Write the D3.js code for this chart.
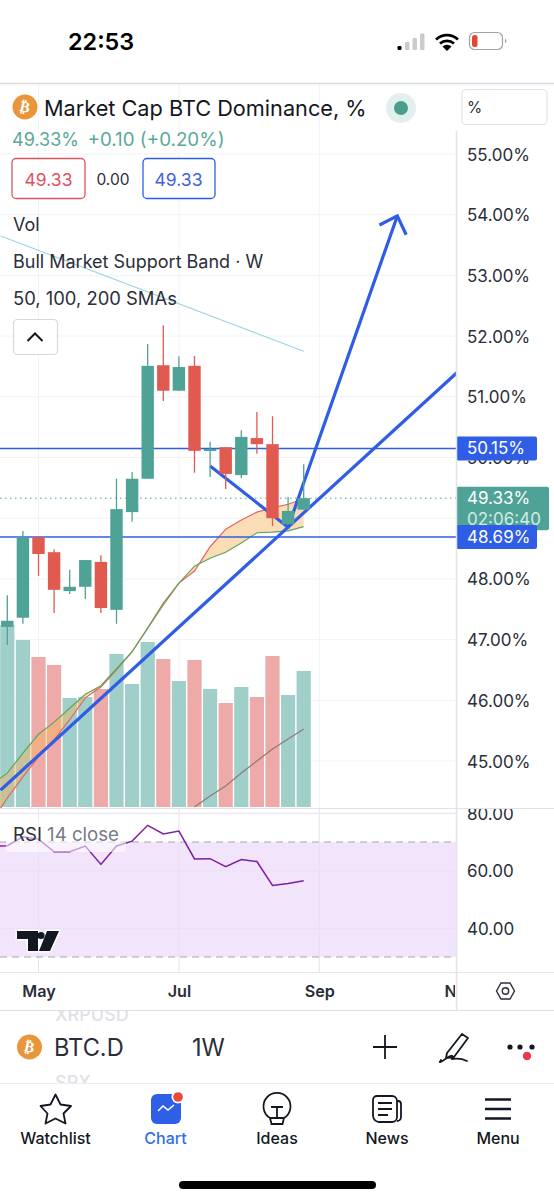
<!DOCTYPE html>
<html><head><meta charset="utf-8">
<script src="https://cdn.jsdelivr.net/npm/d3@7/dist/d3.min.js"></script>
<style>
html,body{margin:0;padding:0;background:#fff}
svg{display:block;font-family:Inter,"Noto Sans",sans-serif}
</style></head><body><svg id="c" width="554" height="1200"></svg>
<script>
// ---------- data ----------
const weeks=["2023-04-17","2023-04-24","2023-05-01","2023-05-08","2023-05-15","2023-05-22","2023-05-29","2023-06-05","2023-06-12","2023-06-19","2023-06-26","2023-07-03","2023-07-10","2023-07-17","2023-07-24","2023-07-31","2023-08-07","2023-08-14","2023-08-21","2023-08-28"];
const opens =[47.21,47.36,48.69,48.44,47.80,47.87,48.28,47.49,49.10,49.65,51.52,51.10,51.51,50.11,50.17,49.71,50.32,50.22,48.90,49.14];
const highs =[47.73,48.79,48.69,48.49,48.15,48.31,48.39,49.65,49.76,51.87,52.18,51.67,51.67,50.26,50.17,50.45,50.75,50.68,49.35,49.89];
const lows  =[46.91,47.26,48.05,47.44,47.75,47.67,47.44,47.26,48.94,49.65,50.93,51.10,49.75,49.68,49.48,49.66,50.06,48.87,48.90,49.14];
const closes=[47.31,48.69,48.41,47.82,47.87,48.31,47.52,49.15,49.65,51.51,51.10,51.49,50.11,50.14,49.73,50.34,50.22,49.00,49.12,49.33];
const volumes=[91,83.5,75,71,54.5,55,59,76.5,61.5,82.5,74,63,73.5,59,52,60,55,75.5,56,68];
const volMaWeeks=weeks.slice(12);
const volMa=[0,5.5,10.5,17,23,29,34,39];
const bandRed  =[44.39,44.74,45.07,45.35,45.68,46.04,46.22,46.50,46.80,47.19,47.57,47.93,48.13,48.53,48.82,48.97,49.10,49.17,49.23,49.32];
const bandGreen=[44.80,45.13,45.44,45.64,45.87,46.10,46.24,46.52,46.80,47.19,47.60,47.93,48.21,48.34,48.44,48.59,48.76,48.77,48.79,48.86];
const rsi=[68.7,71.8,71,66.6,66.6,68.6,62.2,68.6,70.3,75.8,72.8,73.8,64.1,64.2,61.4,63.9,63.2,54.9,55.6,56.5];
const priceGrid=[55,54,53,52,51,50,49,48,47,46,45];
const priceTicks=[55,54,53,52,51,50,48,47,46,45];
const rsiTicks=[80,60,40];
const timeTicks=["2023-05-01","2023-07-03","2023-09-04","2023-11-06"];
const timeLabels=["May","Jul","Sep","Nov"];
const hLines=[50.15,48.69];
const lastPrice=49.33;
const fadeLine=[["2023-04-14",53.65],["2023-08-28",51.75]];
const trendLine=[["2023-04-14",44.52],["2023-11-06",51.44]];
const arrowLine=[["2023-07-17",49.86],["2023-08-21",48.85],["2023-10-09",53.98]];
const arrowHead=[["2023-10-01",53.83],["2023-10-09",53.98],["2023-10-13",53.67]];

// ---------- scales ----------
const D=s=>new Date(s+"T00:00:00Z");
const x=d3.scaleUtc().domain([D("2023-04-17"),D("2023-11-06")]).range([7.3,459.7]);
const y=d3.scaleLinear().domain([55,45]).range([154,761]);
const yVol=d3.scaleLinear().domain([0,100]).range([807,607]);
const yRsi=d3.scaleLinear().domain([70,30]).range([842,957]);

const GREEN="#4fa296",RED="#e05a50",BLUE="#2f5de6",TXT="#2a2e39";
const svg=d3.select("#c");
const defs=svg.append("defs");
const clip=(id,a,b,c,e)=>defs.append("clipPath").attr("id",id).append("rect").attr("x",a).attr("y",b).attr("width",c).attr("height",e);
clip("plot",0,84,456,724);clip("rsiP",0,809,456,163);clip("rsiAx",457,808,97,164);clip("timeAx",0,973,455,36);

const line=(g,x1,y1,x2,y2,c,w)=>g.append("line").attr("x1",x1).attr("y1",y1).attr("x2",x2).attr("y2",y2).attr("stroke",c).attr("stroke-width",w||1);
const text=(g,s,px,py,size,fill,o={})=>g.append("text").text(s).attr("x",px).attr("y",py).attr("font-size",size).attr("fill",fill).attr("dominant-baseline","central").attr("text-anchor",o.a||"start").attr("font-weight",o.w||400).attr("opacity",o.o==null?1:o.o);

// ---------- main price pane ----------
const plot=svg.append("g").attr("clip-path","url(#plot)");
priceGrid.forEach(t=>line(plot,0,y(t),456,y(t),"#f1f3f7"));
timeTicks.forEach(t=>line(plot,x(D(t)),84,x(D(t)),808,"#f1f3f7"));

plot.selectAll("rect.vol").data(weeks).join("rect").attr("class","vol")
 .attr("x",d=>x(D(d))-7.1).attr("width",14.2)
 .attr("y",(d,i)=>yVol(volumes[i])).attr("height",(d,i)=>yVol(0)-yVol(volumes[i]))
 .attr("fill",(d,i)=>closes[i]>=opens[i]?"#a0cfca":"#eeaaa8");

plot.append("path").datum(volMaWeeks).attr("fill","none").attr("stroke","#8d7a72").attr("stroke-width",1.2)
 .attr("d",d3.line().x(d=>x(D(d))).y((d,i)=>yVol(volMa[i])));

// band, carried off the left edge
const bw=["2023-04-10",...weeks], br=[44.0,...bandRed], bg=[44.62,...bandGreen];
plot.append("path").datum(bw).attr("fill","#f4b45f").attr("opacity",.45)
 .attr("d",d3.area().x(d=>x(D(d))).y0((d,i)=>y(br[i])).y1((d,i)=>y(bg[i])));
plot.append("path").datum(bw).attr("fill","none").attr("stroke","#e4655c").attr("stroke-width",1.2)
 .attr("d",d3.line().x(d=>x(D(d))).y((d,i)=>y(br[i])));
plot.append("path").datum(bw).attr("fill","none").attr("stroke","#5fa55a").attr("stroke-width",1.2)
 .attr("d",d3.line().x(d=>x(D(d))).y((d,i)=>y(bg[i])));

// dotted last-price line and horizontal levels
plot.append("line").attr("x1",0).attr("x2",456).attr("y1",y(lastPrice)).attr("y2",y(lastPrice)).attr("stroke","#4fa296").attr("stroke-width",1).attr("stroke-dasharray","1.5 3.5");
hLines.forEach(h=>line(plot,0,y(h),456,y(h),BLUE,1.5));

// hand-drawn lines sit under the candles
const ann=d3.line().x(d=>x(D(d[0]))).y(d=>y(d[1]));
plot.append("path").attr("d",ann(fadeLine)).attr("fill","none").attr("stroke","#a3d3e6").attr("stroke-width",1.2);
plot.append("path").attr("d",ann(trendLine)).attr("fill","none").attr("stroke",BLUE).attr("stroke-width",3.2);
plot.append("path").attr("d",ann(arrowLine)).attr("fill","none").attr("stroke",BLUE).attr("stroke-width",3.2).attr("stroke-linejoin","round");
plot.append("path").attr("d",ann(arrowHead)).attr("fill","none").attr("stroke",BLUE).attr("stroke-width",3.2);

// candles
const cg=plot.append("g");
cg.selectAll("line").data(weeks).join("line")
 .attr("x1",d=>x(D(d))).attr("x2",d=>x(D(d)))
 .attr("y1",(d,i)=>y(highs[i])).attr("y2",(d,i)=>y(lows[i]))
 .attr("stroke",(d,i)=>closes[i]>=opens[i]?GREEN:RED).attr("stroke-width",1.3);
cg.selectAll("rect").data(weeks).join("rect")
 .attr("x",d=>x(D(d))-6.2).attr("width",12.4)
 .attr("y",(d,i)=>y(Math.max(opens[i],closes[i])))
 .attr("height",(d,i)=>Math.max(2,y(Math.min(opens[i],closes[i]))-y(Math.max(opens[i],closes[i]))))
 .attr("fill",(d,i)=>closes[i]>=opens[i]?GREEN:RED);

// ---------- RSI pane ----------
const rp=svg.append("g").attr("clip-path","url(#rsiP)");
rp.append("rect").attr("x",0).attr("width",456).attr("y",yRsi(70)).attr("height",yRsi(30)-yRsi(70)).attr("fill","#f2e5fb");
rsiTicks.forEach(t=>line(rp,0,yRsi(t),456,yRsi(t),"#e8e0ef"));
timeTicks.forEach(t=>line(rp,x(D(t)),809,x(D(t)),972,"#e6e1ec"));
[70,30].forEach(t=>rp.append("line").attr("x1",0).attr("x2",456).attr("y1",yRsi(t)).attr("y2",yRsi(t)).attr("stroke","#a9a5ad").attr("stroke-width",1.1).attr("stroke-dasharray","7 5"));
const rw=["2023-04-10",...weeks], rv=[68.5,...rsi];
rp.append("path").datum(rw).attr("fill","none").attr("stroke","#7b1fa2").attr("stroke-width",1.5)
 .attr("d",d3.line().x(d=>x(D(d))).y((d,i)=>yRsi(rv[i])));
rp.append("rect").attr("x",6).attr("y",820).attr("width",120).attr("height",32).attr("rx",3).attr("fill","#fff").attr("opacity",.55);
const leg=rp.append("text").attr("x",13).attr("y",834).attr("font-size",18.6).attr("dominant-baseline","central");
leg.append("tspan").text("RSI").attr("fill",TXT);
leg.append("tspan").text(" 14 close").attr("fill","#767a85");

// TradingView mark
const tv=svg.append("g");
tv.append("path").attr("d","M17 931H38V951H28V939H17Z M47 931H59L50 951H39Z").attr("fill","#131722").attr("stroke","#fff").attr("stroke-width",3).attr("paint-order","stroke");
tv.append("circle").attr("cx",41).attr("cy",935.5).attr("r",3.6).attr("fill","#131722");

// ---------- right axes ----------
const styleAxis=g=>{g.select(".domain").remove();g.selectAll(".tick line").remove();
 g.selectAll("text").attr("fill",TXT).attr("font-size",17).attr("font-family","Inter,sans-serif").attr("x",467-456).attr("dy",0).attr("dominant-baseline","central");};
svg.append("g").attr("transform","translate(456,0)")
 .call(d3.axisRight(y).tickValues(priceTicks).tickFormat(d=>d3.format(".2f")(d)+"%")).call(styleAxis);
svg.append("g").attr("clip-path","url(#rsiAx)").append("g").attr("transform","translate(456,0)")
 .call(d3.axisRight(yRsi).tickValues(rsiTicks).tickFormat(d3.format(".2f"))).call(styleAxis);

// price labels
const lab=(yy,h,fill)=>svg.append("rect").attr("x",456).attr("y",yy).attr("width",fill==GREEN?93:81).attr("height",h).attr("rx",2).attr("fill",fill);
lab(y(lastPrice)-11.5,43.5,GREEN);
text(svg,"49.33%",467,y(lastPrice),17,"#fff");
text(svg,"02:06:40",467,519,17,"#d2ebe6");
hLines.forEach(h=>{lab(y(h)-12,24,BLUE);text(svg,d3.format(".2f")(h)+"%",467,y(h),17,"#fff");});

// ---------- time axis ----------
const ta=svg.append("g").attr("clip-path","url(#timeAx)").append("g").attr("transform","translate(0,980)")
 .call(d3.axisBottom(x).tickValues(timeTicks.map(D)).tickFormat((d,i)=>timeLabels[i]));
ta.select(".domain").remove();ta.selectAll(".tick line").remove();
ta.selectAll("text").attr("fill",TXT).attr("font-size",16.2).attr("font-weight",600).attr("font-family","Inter,sans-serif").attr("y",11).attr("dy",0).attr("dominant-baseline","central");

// ---------- frame lines ----------
line(svg,0,83.5,554,83.5,"#d9dce3",1.3);
line(svg,456.5,131,456.5,1010,"#e2e4ea",1.5);
line(svg,0,808.5,554,808.5,"#dfe1e7",1.2);
line(svg,0,972.5,554,972.5,"#e2e4ea",1);
line(svg,0,1010.5,554,1010.5,"#dcdfe6",1.2);

// ---------- header ----------
const coin=(cx,cy)=>{svg.append("circle").attr("cx",cx).attr("cy",cy).attr("r",12.5).attr("fill","#e9963a");
 text(svg,"\u20BF",cx,cy,15,"#fff",{a:"middle",w:700}).attr("font-family","DejaVu Sans").attr("transform",`rotate(12 ${cx} ${cy})`);};
coin(25,107);
text(svg,"Market Cap BTC Dominance, %",44,107.5,21.7,"#131722");
svg.append("circle").attr("cx",401).attr("cy",108).attr("r",15).attr("fill","#e1f0ed");
svg.append("circle").attr("cx",401).attr("cy",108).attr("r",7).attr("fill","#4a9c8d");
svg.append("rect").attr("x",462).attr("y",89.5).attr("width",85).attr("height",35).attr("rx",4).attr("fill","#fff").attr("stroke","#e0e3ea").attr("stroke-width",1.2);
text(svg,"%",467,107,15.5,TXT);
text(svg,"49.33%",12,139,18,"#5aa899");
text(svg,"+0.10 (+0.20%)",87.5,139,18.8,"#5aa899");
const box=(x0,w,c)=>svg.append("rect").attr("x",x0).attr("y",158.5).attr("width",w).attr("height",40).attr("rx",4).attr("fill","#fff").attr("stroke",c).attr("stroke-width",1.3);
box(12,73,"#dd5460");box(143,72,BLUE);
text(svg,"49.33",48.5,179,17.5,"#dd5460",{a:"middle"});
text(svg,"0.00",113,179,15.5,TXT,{a:"middle"});
text(svg,"49.33",178.5,179,17.5,"#3f62e0",{a:"middle"});
text(svg,"Vol",13,224,18,TXT);
text(svg,"Bull Market Support Band \u00B7 W",13,261,18,TXT);
text(svg,"50, 100, 200 SMAs",13,298,18.4,TXT);
svg.append("rect").attr("x",13.5).attr("y",319.5).attr("width",44).attr("height",35).attr("rx",4).attr("fill","#fff").attr("stroke","#d5d8df").attr("stroke-width",1.2);
svg.append("path").attr("d","M27.5 341L35 333.5L42.5 341").attr("fill","none").attr("stroke","#131722").attr("stroke-width",2);

// hexagon
svg.append("path").attr("d","M496.5 991L501 983H510L514.5 991L510 999H501Z").attr("fill","none").attr("stroke",TXT).attr("stroke-width",1.4);
svg.append("circle").attr("cx",505.5).attr("cy",991).attr("r",3.2).attr("fill","none").attr("stroke",TXT).attr("stroke-width",1.4);

// ---------- status bar ----------
text(svg,"22:53",68,41.5,23.4,"#000",{w:600});
[[397.5,46,4,"#000"],[405,42,4.5,"#cbcbcb"],[412.5,38,4.5,"#cbcbcb"],[420,33.5,4.5,"#cbcbcb"]].forEach(b=>
 svg.append("rect").attr("x",b[0]).attr("y",b[1]).attr("width",b[2]).attr("height",50-b[1]).attr("rx",1.2).attr("fill",b[3]));
svg.append("path").attr("d","M436 39.5A16 16 0 0 1 458 39.5M440 43.5A10.5 10.5 0 0 1 454 43.5").attr("fill","none").attr("stroke","#000").attr("stroke-width",2.8);
svg.append("path").attr("d","M442.5 46.5A6.5 6.5 0 0 1 451.5 46.5L447 51Z").attr("fill","#000");
svg.append("rect").attr("x",469.5).attr("y",32.5).attr("width",33).attr("height",17).attr("rx",5).attr("fill","#fff").attr("stroke","#a3a3a3").attr("stroke-width",1.2);
svg.append("rect").attr("x",472).attr("y",35).attr("width",5.5).attr("height",12).attr("rx",2.5).attr("fill","#e8432f");
svg.append("path").attr("d","M505 38.5C507 40 507 42 505 43.5Z").attr("fill","#a3a3a3");

// ---------- symbol bar ----------
clip("sx",0,1011,554,72);
const sc=svg.append("g").attr("clip-path","url(#sx)");
text(sc,"XRPUSD",55,1014,18,"#dfe1e7",{w:500});
text(sc,"SPX",55,1082,18,"#dfe1e7",{w:500});
coin(29.5,1047);
text(svg,"BTC.D",54,1047,23.6,TXT);
text(svg,"1W",192,1047,23.6,TXT);
svg.append("path").attr("d","M385 1035V1059M373 1047H397").attr("stroke","#131722").attr("stroke-width",1.8);
svg.append("path").attr("d","M447 1053L462 1034L468 1038L454 1057L446 1058Z M441 1060C438 1064 441 1062 447 1058C452 1054 454 1056 452 1058C450 1061 456 1056 467 1061").attr("fill","none").attr("stroke","#131722").attr("stroke-width",1.8).attr("stroke-linejoin","round").attr("stroke-linecap","round");
[510,520,532].forEach(c=>svg.append("circle").attr("cx",c).attr("cy",1047).attr("r",2.6).attr("fill","#131722"));
svg.append("circle").attr("cx",527).attr("cy",1056).attr("r",4.2).attr("fill","#e8394f");
line(svg,0,1083.5,554,1083.5,"#eceef2",1);

// ---------- nav bar ----------
const nav=[["Watchlist",55.5],["Chart",165.5],["Ideas",277],["News",387],["Menu",498]];
nav.forEach(n=>text(svg,n[0],n[1],1138,16,n[0]=="Chart"?"#2f6fe8":"#131722",{a:"middle",w:500}));
svg.append("path").attr("d","M55.5 1094.5L60.5 1104.5L71 1106L63.5 1113.5L65.5 1123.5L55.5 1118.5L45.5 1123.5L47.5 1113.5L40.5 1106L50.5 1104.5Z").attr("fill","none").attr("stroke","#131722").attr("stroke-width",1.8).attr("stroke-linejoin","round");
svg.append("rect").attr("x",151).attr("y",1094).attr("width",30).attr("height",30).attr("rx",6).attr("fill","#2f5fe6");
svg.append("path").attr("d","M158 1111L163 1106L168 1110L174 1105").attr("fill","none").attr("stroke","#fff").attr("stroke-width",1.6);
svg.append("circle").attr("cx",178).attr("cy",1097).attr("r",6.5).attr("fill","#fff");
svg.append("circle").attr("cx",178).attr("cy",1097).attr("r",4.8).attr("fill","#e8493b");
svg.append("path").attr("d","M270 1118A13.5 13.5 0 1 1 284 1118M270 1118H284L282.5 1124H271.5Z M271 1107H283M277 1107V1118").attr("fill","none").attr("stroke","#131722").attr("stroke-width",1.8);
svg.append("path").attr("d","M377 1096H392A5 5 0 0 1 397 1101V1117A5 5 0 0 1 392 1122H379A7 7 0 0 1 373 1116V1100A4 4 0 0 1 377 1096Z M397 1101H398A3 3 0 0 1 401 1104V1117A4 4 0 0 1 397 1121 M378 1103H392M378 1109H392M378 1115H388").attr("fill","none").attr("stroke","#131722").attr("stroke-width",1.8);
svg.append("path").attr("d","M485 1099.5H511M485 1109H511M485 1118.5H511").attr("stroke","#131722").attr("stroke-width",2.6);
svg.append("rect").attr("x",179).attr("y",1181).attr("width",197).attr("height",8).attr("rx",4).attr("fill","#000");
</script></body></html>
